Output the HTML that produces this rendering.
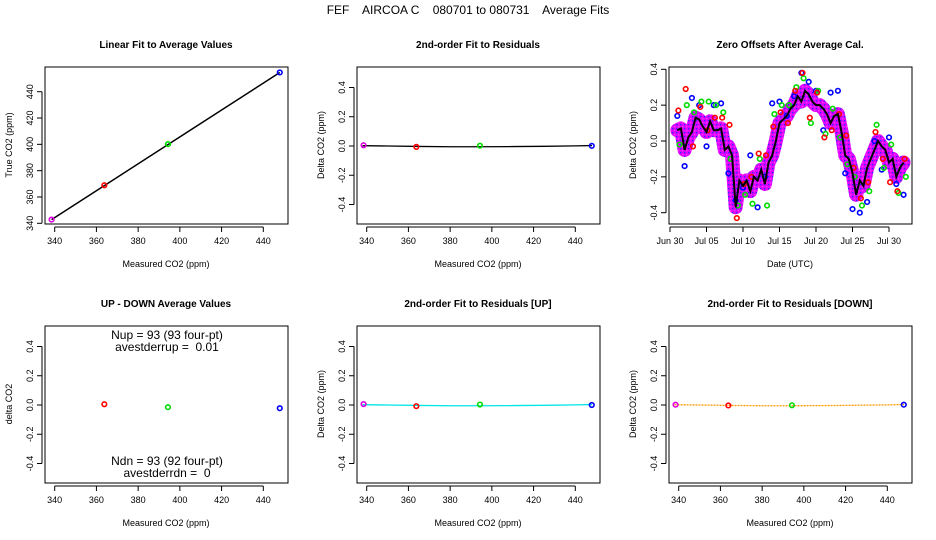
<!DOCTYPE html>
<html><head><meta charset="utf-8"><style>
body{margin:0;background:#fff;}
svg{display:block;font-family:"Liberation Sans",sans-serif;}
#title{white-space:pre;}
</style></head><body>
<svg id="c" width="936" height="540" xmlns="http://www.w3.org/2000/svg">
<defs>
<pattern id="chk" width="4" height="4" patternUnits="userSpaceOnUse">
<rect width="4" height="4" fill="#e000ff"/>
<rect x="0" y="0" width="1.3" height="1.3" fill="#3030ff"/>
<rect x="2" y="2" width="1.3" height="1.3" fill="#ff40ff"/>
</pattern>
</defs>
<rect width="936" height="540" fill="#fff"/>
<text id="title" x="468" y="14" text-anchor="middle" font-size="12">FEF    AIRCOA C    080701 to 080731    Average Fits</text>
</svg>
<script>
// ---- data ----
const calX = [338.5, 363.8, 394.3, 447.9];
const calTrue = [342.8, 368.9, 400.2, 454.6];
const calColors = ['#e000e0','#ff0000','#00dd00','#0000ff'];
const residVals = [0.005, -0.006, 0.002, 0.001];
const upX = [363.8, 394.3, 447.9];
const upDown = [0.005, -0.015, -0.022];
const upResid = [0.006, -0.008, 0.003, 0.0];
const dnResid = [0.002, -0.003, -0.002, 0.002];
const fitLineX = [338, 350, 365, 380, 395, 410, 425, 440, 448];
const fitLineY = [0.002, 0.0, -0.003, -0.005, -0.005, -0.004, -0.002, 0.001, 0.003];
const xTicksCO2 = [340, 360, 380, 400, 420, 440];
const yTicksTrue = [340, 360, 380, 400, 420, 440];
const yTicksDelta = [-0.4, -0.2, 0.0, 0.2, 0.4];
const yTickDeltaLabels = ['-0.4','-0.2','0.0','0.2','0.4'];
const dateTicks = [0, 5, 10, 15, 20, 25, 30];
const dateLabels = ['Jun 30','Jul 05','Jul 10','Jul 15','Jul 20','Jul 25','Jul 30'];
const zeroDays = [1,1.5,2,2.5,3,3.5,4,4.5,5,5.5,6,6.5,7,7.5,8,8.5,9,9.5,10,10.5,11,11.5,12,12.5,13,13.5,14,14.5,15,15.5,16,16.5,17,17.5,18,18.5,19,19.5,20,20.5,21,21.5,22,22.5,23,23.5,24,24.5,25,25.5,26,26.5,27,27.5,28,28.5,29,29.5,30,30.5,31,31.5,32];
const zeroMean = [0.06,0.07,-0.05,0.02,0.05,0.13,0.12,0.08,0.05,0.11,0.06,0.06,0.07,-0.05,-0.03,-0.08,-0.37,-0.22,-0.25,-0.22,-0.28,-0.2,-0.22,-0.16,-0.24,-0.12,-0.08,0.0,0.1,0.12,0.14,0.18,0.2,0.25,0.22,0.28,0.26,0.22,0.2,0.2,0.18,0.15,0.1,0.14,0.15,0.05,-0.08,-0.1,-0.18,-0.3,-0.22,-0.25,-0.15,-0.1,-0.05,0.0,-0.03,-0.05,-0.12,-0.1,-0.2,-0.15,-0.12];
const redDays = [1,2,3,4,5,6,7,8,9,10,11,12,13,14,15,16,17,18,19,20,21,22,23,24,25,26,27,28,29,30,31,32];
const redVals = [0.17,0.29,-0.03,0.19,0.06,0.13,0.13,0.09,-0.43,-0.24,-0.2,-0.07,-0.08,0.08,0.16,0.1,0.28,0.38,0.13,0.27,0.02,0.06,0.15,0.03,-0.15,-0.32,-0.23,0.05,-0.1,-0.23,-0.28,-0.1];
const greenVals = [-0.02,0.2,0.16,0.22,0.22,0.2,0.16,-0.1,-0.36,-0.3,-0.35,-0.1,-0.36,0.15,0.2,0.2,0.3,0.35,0.1,0.28,0.04,0.18,0.02,-0.13,-0.2,-0.36,-0.28,0.09,-0.15,-0.02,-0.29,-0.2];
const blueVals = [0.14,-0.14,0.24,0.2,-0.03,0.2,0.21,-0.18,-0.33,-0.26,-0.08,-0.37,-0.2,0.21,0.22,0.14,0.25,0.38,0.33,0.28,0.06,0.27,0.28,-0.18,-0.38,-0.4,-0.34,0.0,-0.16,0.02,-0.24,-0.3];

const svg = document.getElementById('c');
const NS = 'http://www.w3.org/2000/svg';
function mk(tag, attrs, parent){const e=document.createElementNS(NS,tag);for(const k in attrs)e.setAttribute(k,attrs[k]);(parent||svg).appendChild(e);return e;}
function lin(d0,d1,r0,r1){return v=>r0+(v-d0)*(r1-r0)/(d1-d0);}

function panel(name, L, T, title, xlab, ylab){
  const g = mk('g',{});
  
  
  const box = mk('rect',{x:L,y:T,width:243,height:157,fill:'none',stroke:'#000','stroke-width':1},g);
  
  
  const t = mk('text',{x:L+121,y:T-19,'text-anchor':'middle','font-size':10,'font-weight':'bold'},g);
  t.textContent = title;
  
  
  const xl = mk('text',{x:L+121,y:T+200,'text-anchor':'middle','font-size':9},g);
  xl.textContent = xlab;
  
  
  const yl = mk('text',{x:0,y:0,'text-anchor':'middle','font-size':9,transform:`translate(${L-33},${T+78}) rotate(-90)`},g);
  yl.textContent = ylab;
  
  
  return g;
}
function xAxis(g, T, ticks, labels, sx){
  const y = T+157;
  const ax = mk('line',{x1:sx(ticks[0]),x2:sx(ticks[ticks.length-1]),y1:y+3,y2:y+3,stroke:'#000'},g);
  
  
  ticks.forEach((v,i)=>{
    mk('line',{x1:sx(v),x2:sx(v),y1:y+3,y2:y+8,stroke:'#000'},g);
    const tx = mk('text',{x:sx(v),y:y+20,'text-anchor':'middle','font-size':9},g);
    tx.textContent = labels[i];
    
    
  });
}
function yAxis(g, L, ticks, labels, sy){
  const x = L-3;
  const ax = mk('line',{x1:x,x2:x,y1:sy(ticks[0]),y2:sy(ticks[ticks.length-1]),stroke:'#000'},g);
  
  
  ticks.forEach((v,i)=>{
    mk('line',{x1:x-5,x2:x,y1:sy(v),y2:sy(v),stroke:'#000'},g);
    const tx = mk('text',{x:0,y:0,'text-anchor':'middle','font-size':9,transform:`translate(${x-9},${sy(v)}) rotate(-90)`},g);
    tx.textContent = labels[i];
    
    
  });
}
function pt(g,x,y,col,name){
  const c = mk('circle',{cx:x,cy:y,r:2.3,fill:'none',stroke:col,'stroke-width':1.6},g);
  
  
}
function polyline(g, xs, ys, sx, sy, attrs, name){
  const p = mk('polyline',Object.assign({points:xs.map((v,i)=>sx(v)+','+sy(ys[i])).join(' '),fill:'none'},attrs),g);
  
  
}
const co2Labels = xTicksCO2.map(String);
function sxFor(L){return lin(340,440,L+9.7,L+218.3);}

{
  const L=45,T=67;
  const g = panel('linear-fit-panel',L,T,'Linear Fit to Average Values','Measured CO2 (ppm)','True CO2 (ppm)');
  const sx=sxFor(L), sy=lin(340,440,T+156.3,T+24.7);
  xAxis(g,T,xTicksCO2,co2Labels,sx);
  yAxis(g,L,yTicksTrue,yTicksTrue.map(String),sy);
  polyline(g,[calX[0],calX[3]],[calTrue[0],calTrue[3]],sx,sy,{stroke:'#000','stroke-width':1.5},'fit-line');
  calX.forEach((v,i)=>pt(g,sx(v),sy(calTrue[i]),calColors[i],'calibration-point'));
}
function residPanel(name,L,T,title,vals,lineCol,dash){
  const g = panel(name,L,T,title,'Measured CO2 (ppm)','Delta CO2 (ppm)');
  const sx=sxFor(L), sy=lin(0,0.4,T+79,T+20.5);
  xAxis(g,T,xTicksCO2,co2Labels,sx);
  yAxis(g,L,yTicksDelta,yTickDeltaLabels,sy);
  const a={stroke:lineCol,'stroke-width':1.3};
  if(dash)a['stroke-dasharray']=dash;
  polyline(g,fitLineX,fitLineY,sx,sy,a,'residual-fit-line');
  calX.forEach((v,i)=>pt(g,sx(v),sy(vals[i]),calColors[i],'residual-point'));
}
residPanel('residual-panel',357,67,'2nd-order Fit to Residuals',residVals,'#000',null);
residPanel('residual-up-panel',357,326,'2nd-order Fit to Residuals [UP]',upResid,'#00e5e5',null);
residPanel('residual-down-panel',669,326,'2nd-order Fit to Residuals [DOWN]',dnResid,'#ff9900','2,1');

{
  const L=669,T=67;
  const g = panel('zero-offsets-panel',L,T,'Zero Offsets After Average Cal.','Date (UTC)','Delta CO2 (ppm)');
  const sx=lin(0,30,L+1,L+220), sy=lin(0,0.4,T+74,T+2.3);
  xAxis(g,T,dateTicks,dateLabels,sx);
  yAxis(g,L,yTicksDelta,yTickDeltaLabels,sy);
  polyline(g,zeroDays,zeroMean,sx,sy,{stroke:'url(#chk)','stroke-width':14,'stroke-linejoin':'round','stroke-linecap':'round'},'magenta-band');
  redDays.forEach((d,i)=>pt(g,sx(d),sy(blueVals[i]),'#0000ff','blue-point'));
  redDays.forEach((d,i)=>pt(g,sx(d+0.3),sy(greenVals[i]),'#00dd00','green-point'));
  redDays.forEach((d,i)=>pt(g,sx(d+0.15),sy(redVals[i]),'#ff0000','red-point'));
  polyline(g,zeroDays,zeroMean,sx,sy,{stroke:'#000','stroke-width':2},'mean-line');
}
{
  const L=45,T=326;
  const g = panel('up-down-panel',L,T,'UP - DOWN Average Values','Measured CO2 (ppm)','delta CO2');
  const sx=sxFor(L), sy=lin(0,0.4,T+79,T+20.5);
  xAxis(g,T,xTicksCO2,co2Labels,sx);
  yAxis(g,L,yTicksDelta,yTickDeltaLabels,sy);
  upX.forEach((v,i)=>pt(g,sx(v),sy(upDown[i]),calColors[i+1],'up-down-point'));
  const lines=[['Nup = 93 (93 four-pt)',T+13,'nup-text'],['avestderrup =  0.01',T+25,'avestderrup-text'],['Ndn = 93 (92 four-pt)',T+139,'ndn-text'],['avestderrdn =  0',T+151,'avestderrdn-text']];
  lines.forEach(l=>{const t=mk('text',{x:L+122,y:l[1],'text-anchor':'middle','font-size':12,style:'white-space:pre'},g);t.textContent=l[0];
    
    });
}
</script>
</body></html>
